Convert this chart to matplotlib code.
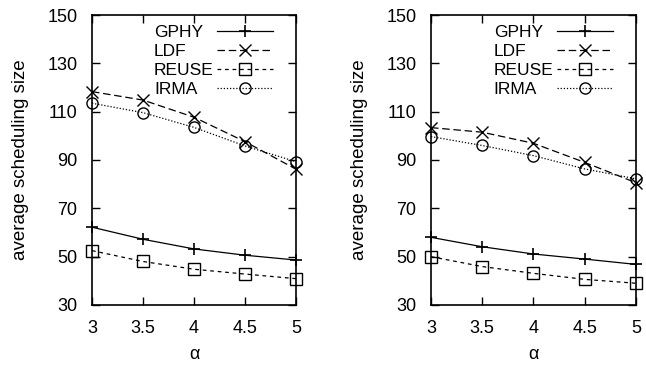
import matplotlib
matplotlib.use("Agg")
import matplotlib.pyplot as plt

plt.rcParams['font.family'] = ['Liberation Sans', 'DejaVu Sans']

alpha = [3, 3.5, 4, 4.5, 5]
names = ["GPHY", "LDF", "REUSE", "IRMA"]

# left panel
gphy_a = [62.2, 57.2, 53.2, 50.6, 48.6]
ldf_a = [118.3, 114.8, 107.7, 97.6, 86.2]
reuse_a = [52.5, 48.0, 44.8, 42.8, 40.9]
irma_a = [113.5, 109.6, 103.5, 95.8, 89.3]

# right panel
gphy_b = [58.0, 54.1, 51.1, 49.0, 46.8]
ldf_b = [103.4, 101.5, 96.9, 89.0, 80.6]
reuse_b = [50.0, 45.9, 43.1, 40.6, 39.0]
irma_b = [99.7, 96.0, 91.8, 86.3, 82.2]

yticks = [30, 50, 70, 90, 110, 130, 150]
xticks = [3, 3.5, 4, 4.5, 5]
xlabels = ["3", "3.5", "4", "4.5", "5"]

styles = [
    dict(ls="-", marker="+", ms=9, mew=1.2),
    dict(ls=(0, (6, 3)), marker="x", ms=8, mew=1.0),
    dict(ls=(0, (3, 3)), marker="s", ms=8, mew=1.0, mfc="none"),
    dict(ls=(0, (1, 1.5)), marker="o", ms=8, mew=1.0, mfc="none"),
]

fig = plt.figure(figsize=(6.46, 3.65), dpi=100)
ax1 = fig.add_axes([0.1424, 0.1644, 0.3158, 0.7945])
ax2 = fig.add_axes([0.6672, 0.1644, 0.3173, 0.7945])

legends = []
for ax, series in [(ax1, [gphy_a, ldf_a, reuse_a, irma_a]),
                   (ax2, [gphy_b, ldf_b, reuse_b, irma_b])]:
    for name, vals, st in zip(names, series, styles):
        ax.plot(alpha, vals, color="black", lw=0.9, label=name, clip_on=False, **st)
    ax.set_xlim(3, 5)
    ax.set_ylim(30, 150)
    ax.set_xticks(xticks)
    ax.set_xticklabels(xlabels)
    ax.set_yticks(yticks)
    ax.tick_params(direction="in", top=True, right=True, length=6, width=1,
                   labelsize=13, pad=10.5)
    for s in ax.spines.values():
        s.set_linewidth(1.2)
    ax.set_xlabel("α", fontsize=13, labelpad=7)
    ax.set_ylabel("average scheduling size", fontsize=13.5, labelpad=13)
    leg = ax.legend(loc="upper right", frameon=False, markerfirst=False, fontsize=12.5,
                    handlelength=3.2, labelspacing=0.22, handletextpad=0.2,
                    borderaxespad=0, bbox_to_anchor=(0.92, 0.99))
    legends.append(leg)

# left-align legend labels (gnuplot style): widen the gap for short labels
fig.canvas.draw()
r = fig.canvas.get_renderer()
for leg in legends:
    widths = [t.get_window_extent(r).width for t in leg.texts]
    wmax = max(widths)
    rows = [row for col in leg._legend_handle_box.get_children()
            for row in col.get_children()]
    for row, w in zip(rows, widths):
        row.sep = row.sep + (wmax - w) * 72.0 / fig.dpi

fig.savefig("out.png", dpi=100)
